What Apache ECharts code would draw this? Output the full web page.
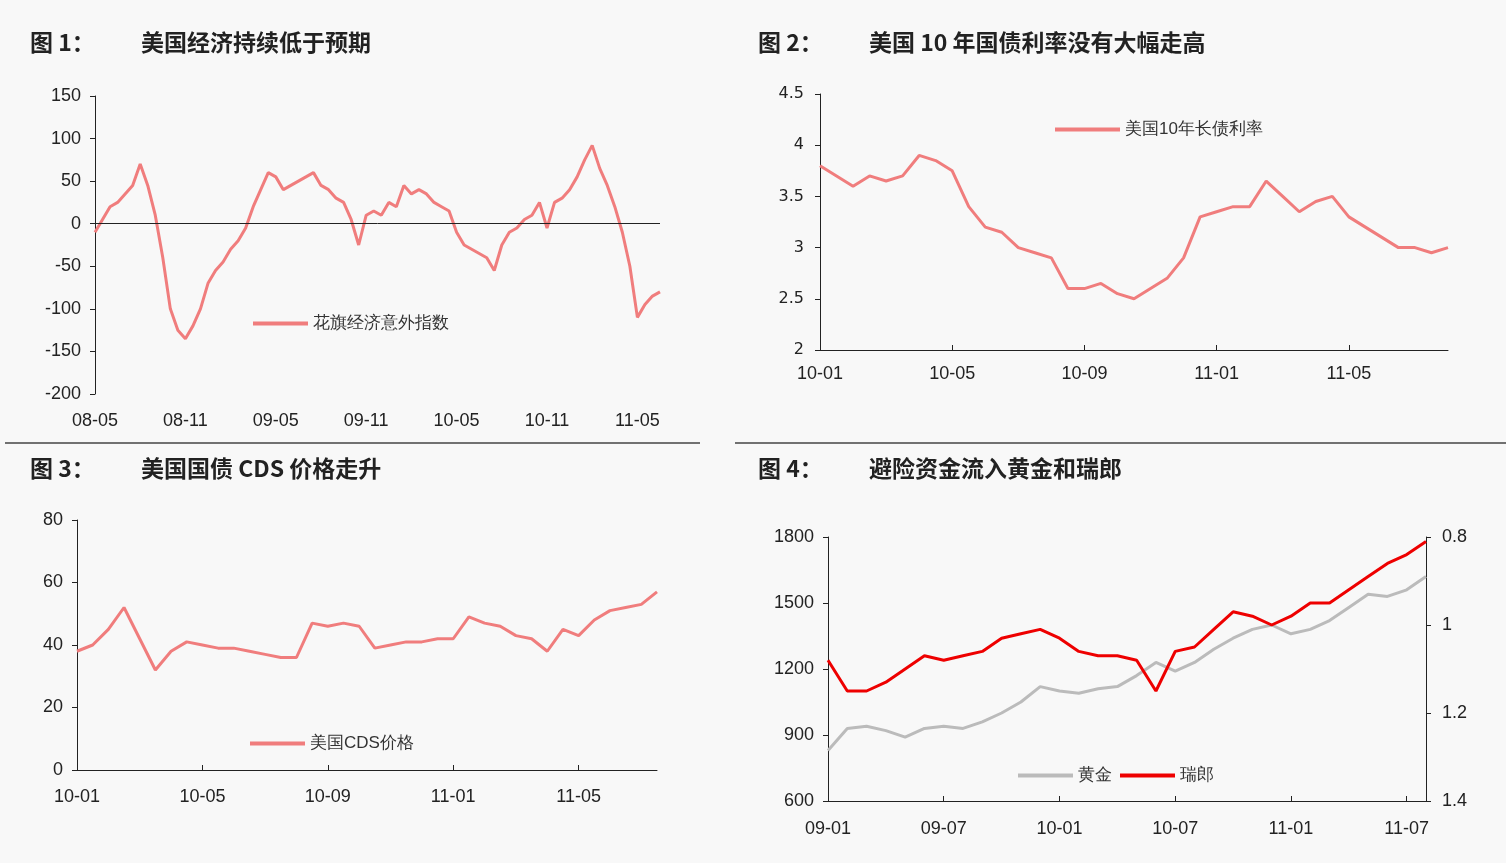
<!DOCTYPE html>
<html><head><meta charset="utf-8">
<script src="https://cdn.jsdelivr.net/npm/echarts@6/dist/echarts.min.js"></script>
<style>html,body{margin:0;padding:0;background:#f8f8f8}#c{width:1506px;height:863px}</style>
</head><body><div id="c"></div>
<script>
// Panel 1: Citi economic surprise index, half-monthly from 2008-05
const p1Start=[2008,5], p1Values=[-10,5,20,25,35,45,70,45,10,-40,-100,-125,-135,-120,-100,-70,-55,-45,-30,-20,-5,20,40,60,55,40,45,50,55,60,45,40,30,25,5,-25,10,15,10,25,20,45,35,40,35,25,20,15,-10,-25,-30,-35,-40,-55,-25,-10,-5,5,10,25,-5,25,30,40,55,75,92,65,45,20,-10,-50,-110,-95,-85,-80];
// Panel 2: US 10y yield, half-monthly from 2010-01
const p2Start=[2010,1], p2Values=[3.8,3.7,3.6,3.7,3.65,3.7,3.9,3.85,3.75,3.4,3.2,3.15,3.0,2.95,2.9,2.6,2.6,2.65,2.55,2.5,2.6,2.7,2.9,3.3,3.35,3.4,3.4,3.65,3.5,3.35,3.45,3.5,3.3,3.2,3.1,3.0,3.0,2.95,3.0];
// Panel 3: US CDS, half-monthly from 2010-01
const p3Start=[2010,1], p3Values=[38,40,45,52,42,32,38,41,40,39,39,38,37,36,36,47,46,47,46,39,40,41,41,42,42,49,47,46,43,42,38,45,43,48,51,52,53,57];
// Panel 4: gold & CHF monthly from 2009-01
const p4Start=[2009,1];
const gold=[830,930,940,920,890,930,940,930,960,1000,1050,1120,1100,1090,1110,1120,1170,1230,1190,1230,1290,1340,1380,1400,1360,1380,1420,1480,1540,1530,1560,1620];
const chf=[1.08,1.15,1.15,1.13,1.10,1.07,1.08,1.07,1.06,1.03,1.02,1.01,1.03,1.06,1.07,1.07,1.08,1.15,1.06,1.05,1.01,0.97,0.98,1.00,0.98,0.95,0.95,0.92,0.89,0.86,0.84,0.81];

function cats(start,n,perMonth){const a=[];for(let i=0;i<n;i++){const m=start[1]-1+Math.floor(i/perMonth);const y=start[0]+Math.floor(m/12);const mm=m%12+1;a.push(String(y).slice(2)+'-'+String(mm).padStart(2,'0')+(perMonth>1?'#'+(i%perMonth):''));}return a;}
const c1=cats(p1Start,p1Values.length,2),c2=cats(p2Start,p2Values.length,2),c3=cats(p3Start,p3Values.length,2),c4=cats(p4Start,gold.length,1);
const fmt=v=>v.split('#')[0];
const F='"Liberation Sans",Arial,sans-serif';
const lab={color:'#222',fontSize:18,fontFamily:F};
const axL={show:true,lineStyle:{color:'#222'}};
const pink='#f07d7d';
function xa(idx,data,interval,margin){return {type:'category',gridIndex:idx,data:data,boundaryGap:false,axisLine:axL,axisTick:{show:true,interval:interval,inside:true,lineStyle:{color:'#222'}},axisLabel:Object.assign({interval:interval,formatter:fmt,margin:margin},lab)};}
function ya(idx,min,max,intv,extra){return Object.assign({type:'value',gridIndex:idx,min:min,max:max,interval:intv,splitLine:{show:false},axisLine:axL,axisTick:{show:true,lineStyle:{color:'#222'}},axisLabel:Object.assign({margin:14},lab)},extra||{});}
const chart=echarts.init(document.getElementById('c'));
const tstyle={fontSize:23,fontWeight:'bold',fontFamily:'"Noto Sans CJK SC",sans-serif',color:'#222'};
chart.setOption({
 animation:false,backgroundColor:'#f8f8f8',
 title:[
  {text:'图 1：',left:25,top:26,textStyle:tstyle},{text:'美国经济持续低于预期',left:136,top:26,textStyle:tstyle},
  {text:'图 2：',left:753,top:26,textStyle:tstyle},{text:'美国 10 年国债利率没有大幅走高',left:864,top:26,textStyle:tstyle},
  {text:'图 3：',left:25,top:452,textStyle:tstyle},{text:'美国国债 CDS 价格走升',left:136,top:452,textStyle:tstyle},
  {text:'图 4：',left:753,top:452,textStyle:tstyle},{text:'避险资金流入黄金和瑞郎',left:864,top:452,textStyle:tstyle}
 ],
 graphic:[
  {type:'line',shape:{x1:5,y1:443,x2:700,y2:443},style:{stroke:'#444',lineWidth:1.5}},
  {type:'line',shape:{x1:735,y1:443,x2:1506,y2:443},style:{stroke:'#444',lineWidth:1.5}}
 ],
 legend:[
  {data:['花旗经济意外指数'],left:248,top:310,itemWidth:55,itemHeight:4,icon:'rect',textStyle:{fontSize:17,color:'#333'}},
  {data:['美国10年长债利率'],left:1050,top:116,itemWidth:65,itemHeight:4,icon:'rect',textStyle:{fontSize:17,color:'#333'}},
  {data:['美国CDS价格'],left:245,top:730,itemWidth:55,itemHeight:4,icon:'rect',textStyle:{fontSize:17,color:'#333'}},
  {data:['黄金','瑞郎'],left:1013,top:762,itemWidth:55,itemHeight:4,icon:'rect',itemGap:8,textStyle:{fontSize:17,color:'#333'}}
 ],
 grid:[
  {left:95,top:96,width:565,height:298},
  {left:820,top:94,width:628,height:256},
  {left:77,top:520,width:580,height:250},
  {left:828,top:537,width:598,height:264}
 ],
 xAxis:[
  Object.assign(xa(0,c1,11,18),{axisLine:{show:false},axisTick:{show:false}}),
  xa(1,c2,7,15),xa(2,c3,7,18),xa(3,c4,5,19)
 ],
 yAxis:[
  ya(0,-200,150,50),ya(1,2,4.5,0.5,{axisLabel:Object.assign({},lab,{margin:16,fontFamily:'"DejaVu Sans",sans-serif',fontSize:16})}),ya(2,0,80,20),
  ya(3,600,1800,300,{axisLabel:Object.assign({},lab,{margin:14,formatter:v=>String(v)})}),
  ya(3,0.8,1.4,0.2,{inverse:true,position:'right',axisLabel:Object.assign({},lab,{margin:16,formatter:v=>String(+v.toFixed(1))})})
 ],
 series:[
  {name:'花旗经济意外指数',type:'line',xAxisIndex:0,yAxisIndex:0,data:p1Values,showSymbol:false,lineStyle:{color:pink,width:3},itemStyle:{color:pink},
   markLine:{symbol:'none',silent:true,label:{show:false},lineStyle:{color:'#222',width:1,type:'solid'},data:[{yAxis:0}]}},
  {name:'美国10年长债利率',type:'line',xAxisIndex:1,yAxisIndex:1,data:p2Values,showSymbol:false,lineStyle:{color:pink,width:3},itemStyle:{color:pink}},
  {name:'美国CDS价格',type:'line',xAxisIndex:2,yAxisIndex:2,data:p3Values,showSymbol:false,lineStyle:{color:pink,width:3},itemStyle:{color:pink}},
  {name:'黄金',type:'line',xAxisIndex:3,yAxisIndex:3,data:gold,showSymbol:false,lineStyle:{color:'#bbbbbb',width:3},itemStyle:{color:'#bbbbbb'}},
  {name:'瑞郎',type:'line',xAxisIndex:3,yAxisIndex:4,data:chf,showSymbol:false,lineStyle:{color:'#ee0000',width:3},itemStyle:{color:'#ee0000'}}
 ]
});
</script></body></html>
